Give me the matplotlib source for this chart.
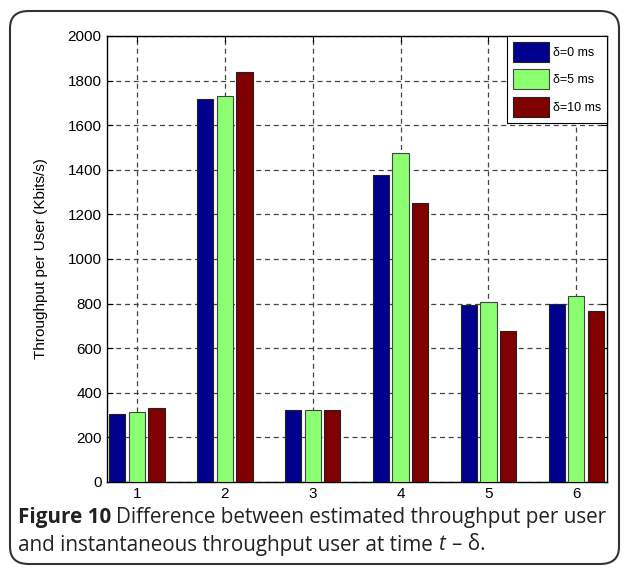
import matplotlib
matplotlib.use("Agg")
import matplotlib.pyplot as plt
import numpy as np
from matplotlib.patches import FancyBboxPatch

categories = [1, 2, 3, 4, 5, 6]
series_labels = ["δ=0 ms", "δ=5 ms", "δ=10 ms"]
delta0 = [305, 1718, 325, 1375, 794, 800]
delta5 = [316, 1729, 325, 1477, 806, 832]
delta10 = [330, 1838, 325, 1252, 676, 768]
yticks = [0, 200, 400, 600, 800, 1000, 1200, 1400, 1600, 1800, 2000]

colors = ["#00008F", "#8CFF70", "#800000"]
edges = ["#222222", "#444444", "#222222"]

plt.rcParams['font.family'] = ['Liberation Sans', 'DejaVu Sans']

fig = plt.figure(figsize=(6.27, 5.70), dpi=100)
ax = fig.add_axes([0.170, 0.1544, 0.7975, 0.7825])

x = np.array(categories, dtype=float)
offset = 0.223
width = 0.185
for i, vals in enumerate([delta0, delta5, delta10]):
    ax.bar(x + (i - 1) * offset, vals, width=width, color=colors[i],
           edgecolor=edges[i], linewidth=0.8, label=series_labels[i], zorder=3)

ax.set_xlim(0.655, 6.345)
ax.set_ylim(0, 2000)
ax.set_xticks(categories)
ax.set_yticks(yticks)
ax.tick_params(direction='in', top=True, right=True, labelsize=11, length=4, width=0.8)
ax.grid(True, linestyle=(0, (4, 3)), color='#444444', linewidth=0.9, zorder=0)
ax.set_axisbelow(True)
for s in ax.spines.values():
    s.set_linewidth(1.0)
ax.set_ylabel("Throughput per User (Kbits/s)", fontsize=11, labelpad=14)

leg = ax.legend(loc='upper right', fontsize=9, handlelength=2.9, handleheight=2.1,
                borderaxespad=0.0, fancybox=False, edgecolor='black', framealpha=1,
                handletextpad=0.3, labelspacing=0.6, borderpad=0.45)
leg.get_frame().set_linewidth(0.8)

# border
border = FancyBboxPatch((10/627, 6/570), 609/627, 553/570,
                        boxstyle="round,pad=0,rounding_size=0.03",
                        transform=fig.transFigure, fill=False,
                        edgecolor='#333333', linewidth=1.5)
fig.patches.append(border)

# caption
cap_font = ['Open Sans', 'DejaVu Sans']
fs = 14.85
r = fig.canvas.get_renderer()
y1 = 1 - 517/570
y2 = 1 - 545/570
t1 = fig.text(18/627, y1, "Figure 10", fontsize=fs, fontweight='bold', family=cap_font,
              va='center', color='#222222')
bb = t1.get_window_extent(renderer=r)
fig.text((bb.x1 + 5) / 627, y1, "Difference between estimated throughput per user",
         fontsize=fs, family=cap_font, va='center', color='#222222')
t2 = fig.text(18/627, y2, "and instantaneous throughput user at time ", fontsize=fs,
              family=cap_font, va='center', color='#222222')
bb2 = t2.get_window_extent(renderer=r)
t3 = fig.text(bb2.x1 / 627, y2, "t", fontsize=fs, family=cap_font, style='italic',
              va='center', color='#222222')
bb3 = t3.get_window_extent(renderer=r)
fig.text((bb3.x1 + 7) / 627, y2, "– δ.", fontsize=fs, family=cap_font,
         va='center', color='#222222')

fig.savefig("out.png", dpi=100)
